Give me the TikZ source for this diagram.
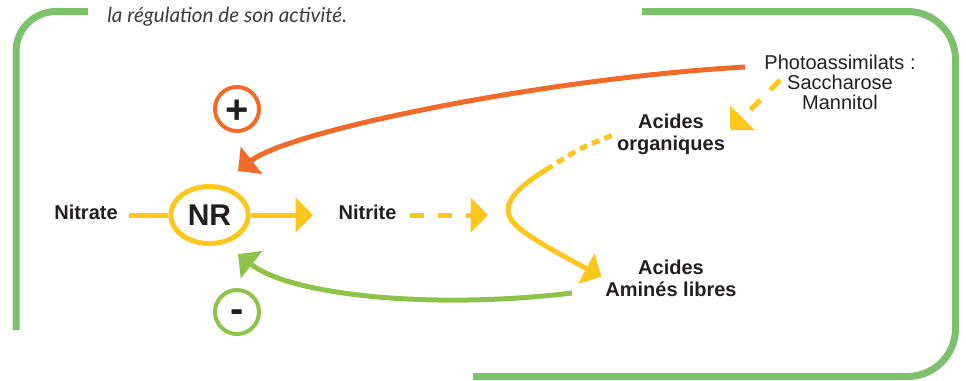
\documentclass[tikz,border=0pt]{standalone}
\usepackage{fontspec}
\setmainfont{Liberation Sans}
\newfontfamily\capfont{Lato}
\usetikzlibrary{arrows.meta,positioning,shapes.geometric}
\definecolor{framegreen}{RGB}{124,193,108}
\definecolor{loopgreen}{RGB}{140,195,72}
\definecolor{nrorange}{RGB}{240,106,42}
\definecolor{nryellow}{RGB}{255,199,30}
\definecolor{ink}{RGB}{35,31,32}
\definecolor{capgray}{RGB}{60,60,60}

\begin{document}
\begin{tikzpicture}[
  x=0.75pt, y=-0.75pt,
  lbl/.style={font=\bfseries\fontsize{15}{16.5}\selectfont, text=ink,
              align=center, inner sep=1pt},
  plain/.style={font=\fontsize{15}{15}\selectfont, text=ink,
                align=center, inner sep=1pt},
  flow/.style={line width=3.75pt, draw=nryellow},
  loopline/.style={line width=3.75pt},
  headtip/.style={-{Triangle[length=13pt, width=25.5pt]}},
  sign/.style={circle, line width=3pt, minimum size=33pt, inner sep=0pt,
               font=\bfseries\fontsize{30}{30}\selectfont, text=ink},
  frame/.style={line width=5.25pt, draw=framegreen}
]
  \useasboundingbox (0,0) rectangle (966,380);

  % green frame
  \draw[frame, rounded corners=30pt] (88,11.5) -| (16,330);
  \draw[frame, rounded corners=36pt] (642,11.5) -- (955.5,11.5)
    -- (955.5,376.5) -- (473,376.5);
  \node[font=\capfont\itshape\fontsize{15.5}{17}\selectfont, text=capgray,
        anchor=base west, inner sep=0pt] (caption) at (107,22)
    {la régulation de son activité.};

  % nodes
  \node[lbl] (nitrate) at (86,212) {Nitrate};
  \node[ellipse, draw=nryellow, line width=3.75pt, minimum width=58pt,
        minimum height=42.75pt, inner sep=0pt,
        font=\bfseries\fontsize{22.5}{24}\selectfont, text=ink] (nr)
    at (209.5,215) {NR};
  \node[lbl] (nitrite) at (367.5,212) {Nitrite};
  \node[lbl] (orga) at (671,134) {Acides\\organiques};
  \node[lbl] (amine) at (671,278) {Acides\\Aminés libres};
  \node[plain] (photo) at (840,82) {Photoassimilats :\\Saccharose\\Mannitol};
  \node[sign, draw=nrorange, text height=21pt, text depth=0pt] (plus)
    at (237,109) {+};
  \node[sign, draw=loopgreen, text height=16.4pt, text depth=0pt] (minus)
    at (237,312) {-};

  \coordinate (bend) at (508,210);
  \coordinate (split) at (547,169);
  \coordinate (sugout) at (745,67);
  \coordinate (sugdash) at (780,80);
  \coordinate (actin) at (238,171);
  \coordinate (aaout) at (572,293);
  \coordinate (inhin) at (238,254);

  % yellow chain
  \draw[flow, shorten <=7.5pt] (nitrate.east |- nr) -- (nr);
  \draw[flow, headtip, shorten >=18pt] (nr) -- (nr -| nitrite.west);
  \draw[flow, headtip, dash pattern=on 10.5pt off 10.5pt,
        shorten <=9pt, shorten >=15pt] (nitrite.east |- nr) -- (nr -| bend);
  \draw[flow, dash pattern=on 6pt off 4pt, shorten <=3pt]
    (orga.west) .. controls (580,148) .. (split);
  \draw[flow, headtip, shorten >=2pt] (split) .. controls (525,183)
    and (508,196) .. (bend) .. controls (508,225) and (530,238) .. (amine.west);
  \draw[flow, headtip, dash pattern=on 10.5pt off 10.5pt, shorten >=4pt]
    (sugdash) -- (orga.east);

  % regulation loops
  \draw[loopline, nrorange, headtip] (sugout) .. controls (550,78)
    and (290,130) .. (actin);
  \draw[loopline, loopgreen, headtip] (aaout) .. controls (430,310)
    and (290,295) .. (inhin);
\end{tikzpicture}
\end{document}
